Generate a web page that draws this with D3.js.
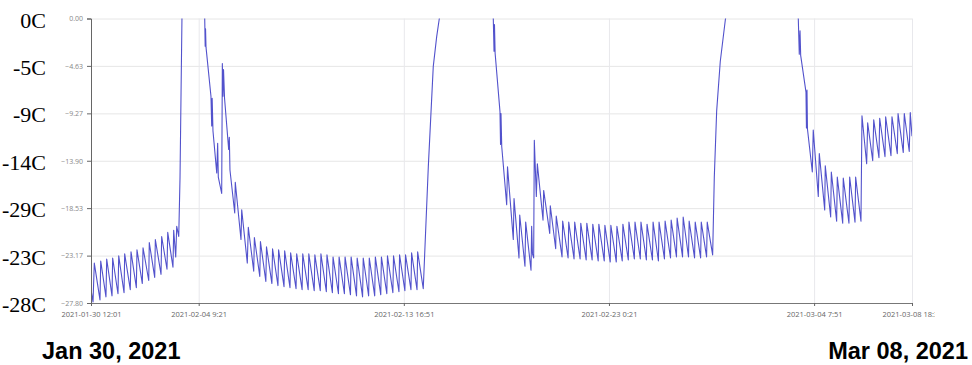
<!DOCTYPE html>
<html>
<head>
<meta charset="utf-8">
<script src="https://cdn.jsdelivr.net/npm/d3@7"></script>
<style>
  html, body { margin: 0; padding: 0; background: #fff; }
  svg { display: block; }
</style>
</head>
<body>
<svg id="chart" width="972" height="365"></svg>
<script>
// Freezer temperature log, hours since the first reading and degrees C.
const run1 = [
  [0, -26.5], [2.2, -27.7], [3.6, -23.9], [9.8, -27.5], [10.6, -23.7], [16.3, -27.2], [17.1, -23.5],
  [22.9, -27.1], [23.6, -23.4], [29.4, -26.9], [30.2, -23.2], [36.0, -26.8], [36.7, -23.0],
  [42.8, -26.5], [43.6, -22.8], [49.4, -26.3], [50.1, -22.6], [55.9, -25.9], [56.7, -22.4],
  [62.9, -25.6], [63.5, -21.9], [69.4, -25.3], [70.1, -21.6], [76.3, -25.0], [77.0, -21.3],
  [82.8, -24.5], [83.6, -20.9], [89.3, -24.3], [90.1, -20.7], [92.3, -23.3], [93.4, -20.3],
  [95.6, -21.3], [97.0, -15.5], [98.1, -7.3], [99.1, 0], [101.3, 5], [107.9, 9], [116.6, 8],
  [122.6, 3], [123.9, 0], [124.4, -2.7], [124.8, -1.0], [125.3, -2.8], [130.7, -7.6],
  [131.5, -10.5], [132.0, -7.8], [132.9, -11.0], [137.0, -15.1], [138.0, -12.2], [138.7, -15.5],
  [142.4, -17.1], [143.1, -4.4], [143.8, -7.6], [144.4, -5.0], [145.5, -7.8], [150.0, -12.8],
  [150.7, -11.6], [151.4, -14.8], [156.6, -19.0], [157.2, -16.0], [163.4, -21.6], [164.2, -18.7],
  [170.3, -23.9], [171.4, -20.4]
];
const run2 = [
  [177.3, -24.7], [178.0, -21.4], [183.9, -25.2], [184.6, -21.8], [190.5, -25.7], [191.2, -22.3],
  [197.1, -25.9], [197.8, -22.5], [203.7, -26.1], [204.4, -22.6], [210.3, -26.2], [211.0, -22.7],
  [216.8, -26.3], [217.5, -22.9], [223.4, -26.4], [224.1, -23.0], [230.0, -26.5], [230.7, -23.0],
  [236.6, -26.5], [237.3, -23.0], [243.2, -26.6], [243.9, -23.1], [249.8, -26.6], [250.5, -23.0],
  [256.4, -26.7], [257.1, -23.1], [263.0, -26.8], [263.7, -23.3], [269.6, -26.9], [270.3, -23.3],
  [276.1, -26.9], [276.8, -23.3], [282.7, -27.0], [283.4, -23.3], [289.3, -27.1], [290.0, -23.4],
  [295.9, -27.2], [296.6, -23.4], [302.5, -27.1], [303.2, -23.4], [309.1, -27.1], [309.8, -23.3],
  [315.7, -27.0], [316.4, -23.3], [322.3, -26.9], [323.0, -23.2], [328.9, -26.8], [329.6, -23.2],
  [335.5, -26.7], [336.2, -23.1], [342.0, -26.6], [342.7, -23.1], [348.6, -26.5], [349.3, -22.9],
  [355.2, -26.5], [355.9, -22.8], [362.0, -26.4], [367.5, -14.5], [372.9, -4.7], [376.6, -1.8],
  [379.5, 0], [386, 3], [405, 6], [425, 4], [435, 1.5], [438.3, 0]
];
const run3 = [
  [439.1, -3.2], [439.6, -0.6], [440.3, -3.4], [445.6, -9.1], [446.2, -12.3], [446.7, -9.3],
  [447.5, -12.5], [452.9, -18.2], [453.8, -14.5], [460.1, -21.6], [460.9, -17.6], [466.3, -23.4],
  [467.1, -19.2], [472.8, -24.2], [473.6, -19.9], [479.4, -24.6], [480.1, -20.3], [481.0, -23.0],
  [482.3, -23.4], [483.0, -11.9], [485.2, -17.4], [486.3, -14.2], [492.5, -19.7], [493.2, -16.8],
  [499.8, -21.0], [500.4, -18.3], [506.3, -22.5], [506.9, -19.3], [513.2, -23.3], [513.9, -19.8],
  [519.8, -23.4], [520.5, -19.9], [526.3, -23.5], [527.0, -19.9], [532.9, -23.5], [533.6, -20.0],
  [539.5, -23.6], [540.2, -20.0], [546.0, -23.6], [546.7, -20.1], [552.6, -23.7], [553.3, -20.1],
  [559.2, -23.7], [559.9, -20.2], [565.7, -23.8], [566.4, -20.2], [572.3, -23.8], [573.0, -20.3],
  [578.8, -23.7], [579.5, -20.1], [585.4, -23.6], [586.1, -19.9], [592.0, -23.5], [592.7, -19.9],
  [598.5, -23.5], [599.2, -19.9], [605.1, -23.6], [605.8, -20.1], [611.7, -23.6], [612.4, -19.9],
  [618.2, -23.7], [618.9, -19.9], [624.8, -23.5], [625.5, -19.8], [631.4, -23.4], [632.1, -19.7],
  [637.9, -23.3], [638.6, -19.5], [644.5, -23.3], [645.2, -19.4], [651.0, -23.3], [651.7, -19.8],
  [657.6, -23.4], [658.3, -19.9], [664.2, -23.4], [664.9, -19.9], [670.7, -23.3], [671.4, -19.9],
  [677.3, -23.1], [679.1, -15.5], [681.7, -9.0], [685.6, -4.2], [691.3, 0], [702, 3], [730, 6],
  [757, 4], [767, 1.5], [770.6, 0]
];
const run4 = [
  [771.7, -3.5], [772.5, -1.2], [773.2, -3.6], [779.0, -7.2], [779.5, -10.7], [780.1, -7.0],
  [780.6, -10.8], [785.9, -15.0], [786.9, -10.9], [792.4, -17.4], [793.5, -13.2], [799.4, -18.7],
  [800.0, -14.4], [805.9, -19.4], [806.6, -15.0], [812.4, -19.8], [813.1, -15.5], [819.0, -20.0],
  [819.6, -15.6], [825.8, -20.0], [826.6, -15.5], [832.4, -19.9], [833.1, -15.5], [838.9, -19.8],
  [840.0, -9.5], [845.1, -14.2], [846.2, -10.2], [851.7, -13.9], [852.8, -9.9], [858.5, -13.6],
  [859.3, -9.75], [865.1, -13.5], [865.8, -9.6], [871.6, -13.4], [872.7, -9.6], [878.5, -13.2],
  [879.3, -9.3], [885.0, -13.1], [886.1, -9.3], [891.5, -13.0], [892.6, -9.2], [894.5, -11.5]
];

// Axis ticks
const yTickValues = [0, -4.63, -9.27, -13.90, -18.53, -23.17, -27.80];
const yNoteLabels = ["0C", "-5C", "-9C", "-14C", "-29C", "-23C", "-28C"];
const xTickLabels = ["2021-01-30 12:01", "2021-02-04 9:21", "2021-02-13 16:51",
                     "2021-02-23 0:21", "2021-03-04 7:51", "2021-03-08 18:31"];
const rangeLabels = ["Jan 30, 2021", "Mar 08, 2021"];

const parseStamp = d3.timeParse("%Y-%m-%d %H:%M");
const xTickDates = xTickLabels.map(parseStamp);
const t0 = xTickDates[0];
const t1 = xTickDates[xTickDates.length - 1];

const readings = run1.concat(run2, run3, run4).map(([h, c]) => ({
  time: new Date(t0.getTime() + h * 3600e3),
  temp: c
}));

const plot = { left: 91, right: 912, top: 18.5, bottom: 303 };

const x = d3.scaleTime().domain([t0, t1]).range([plot.left, plot.right]);
const y = d3.scaleLinear().domain([-27.8, 0]).range([plot.bottom, plot.top]);

const svg = d3.select("#chart");

// grid
svg.append("g")
  .attr("transform", `translate(${plot.left},0)`)
  .call(d3.axisLeft(y).tickValues(yTickValues)
    .tickSize(-(plot.right - plot.left)).tickFormat(""))
  .call(g => g.select(".domain").remove())
  .call(g => g.selectAll("line").attr("stroke", "#e6e6e6").attr("stroke-width", 1));

svg.append("g")
  .attr("transform", `translate(0,${plot.bottom})`)
  .call(d3.axisBottom(x).tickValues(xTickDates)
    .tickSize(-(plot.bottom - plot.top)).tickFormat(""))
  .call(g => g.select(".domain").remove())
  .call(g => g.selectAll("line").attr("stroke", "#e8e8ec").attr("stroke-width", 1));

// line
svg.append("clipPath").attr("id", "plotClip")
  .append("rect")
  .attr("x", plot.left).attr("y", plot.top)
  .attr("width", plot.right - plot.left).attr("height", plot.bottom - plot.top);

const line = d3.line().x(d => x(d.time)).y(d => y(d.temp));

svg.append("path")
  .datum(readings)
  .attr("clip-path", "url(#plotClip)")
  .attr("fill", "none")
  .attr("stroke", "#5252cc")
  .attr("stroke-width", 1.1)
  .attr("stroke-linejoin", "round")
  .attr("d", line);

// axes
const yAxis = svg.append("g")
  .attr("transform", `translate(${plot.left},0)`)
  .call(d3.axisLeft(y).tickValues(yTickValues).tickSize(4).tickPadding(4)
    .tickFormat(d3.format(".2f")));
yAxis.select(".domain").attr("stroke", "#666");
yAxis.selectAll(".tick line").attr("stroke", "#666");
yAxis.selectAll(".tick text")
  .attr("fill", "#888").style("font", "7px 'Open Sans', sans-serif");

svg.append("clipPath").attr("id", "labelClip")
  .append("rect").attr("x", 0).attr("y", 0).attr("width", 935).attr("height", 365);

const xAxis = svg.append("g")
  .attr("transform", `translate(0,${plot.bottom})`)
  .attr("clip-path", "url(#labelClip)")
  .call(d3.axisBottom(x).tickValues(xTickDates).tickSize(3).tickPadding(6)
    .tickFormat((d, i) => xTickLabels[i]));
xAxis.select(".domain").attr("stroke", "#777");
xAxis.selectAll(".tick line").attr("stroke", "#666");
xAxis.selectAll(".tick text")
  .attr("fill", "#666").style("font", "7.5px 'Open Sans', sans-serif");

// handwritten-style notes down the left side
svg.append("g")
  .selectAll("text")
  .data(yNoteLabels)
  .join("text")
  .attr("x", 46)
  .attr("y", (d, i) => y(yTickValues[i]) + 9)
  .attr("text-anchor", "end")
  .style("font", "22px 'Liberation Serif', 'Times New Roman', serif")
  .attr("fill", "#000")
  .text(d => d);

// date range
svg.append("text")
  .attr("x", 42).attr("y", 359)
  .style("font", "bold 23.5px 'Liberation Sans', Arial, sans-serif")
  .attr("fill", "#000")
  .text(rangeLabels[0]);
svg.append("text")
  .attr("x", 968).attr("y", 359)
  .attr("text-anchor", "end")
  .style("font", "bold 23.5px 'Liberation Sans', Arial, sans-serif")
  .attr("fill", "#000")
  .text(rangeLabels[1]);
</script>
</body>
</html>
